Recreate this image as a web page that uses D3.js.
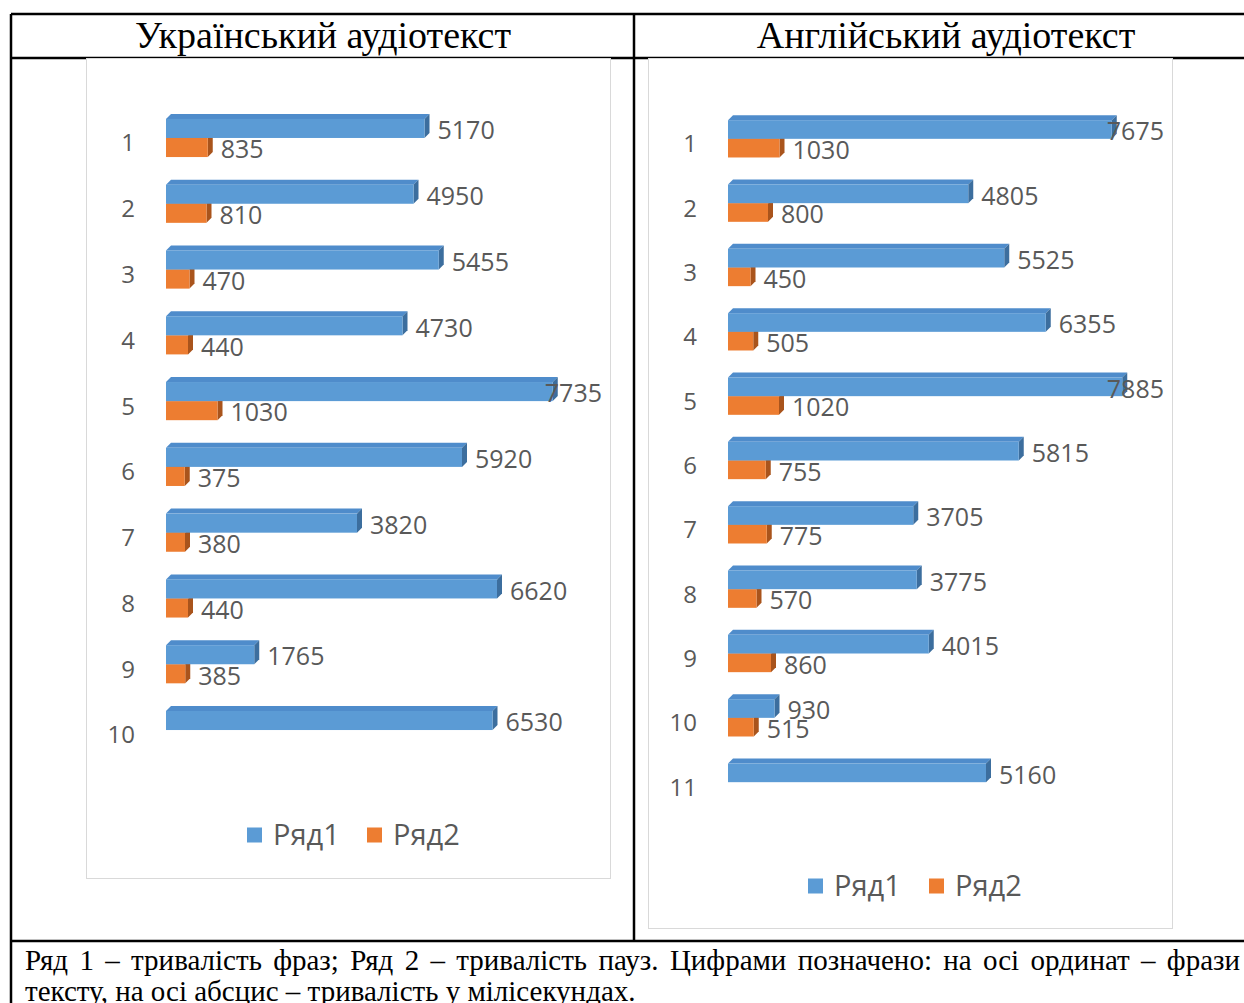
<!DOCTYPE html>
<html>
<head>
<meta charset="utf-8">
<script src="https://cdn.jsdelivr.net/npm/d3@7"></script>
<style>
  body { margin: 0; background: #fff; }
  svg { display: block; }
</style>
</head>
<body>
<div id="chart"></div>
<script>
const ukrCats = ["1", "2", "3", "4", "5", "6", "7", "8", "9", "10"];
const ukrRow1 = [5170, 4950, 5455, 4730, 7735, 5920, 3820, 6620, 1765, 6530];
const ukrRow2 = [835, 810, 470, 440, 1030, 375, 380, 440, 385, null];

const engCats = ["1", "2", "3", "4", "5", "6", "7", "8", "9", "10", "11"];
const engRow1 = [7675, 4805, 5525, 6355, 7885, 5815, 3705, 3775, 4015, 930, 5160];
const engRow2 = [1030, 800, 450, 505, 1020, 755, 775, 570, 860, 515, null];

const seriesNames = ["Ряд1", "Ряд2"];
const headers = ["Український аудіотекст", "Англійський аудіотекст"];
const footLine1 = "Ряд 1 – тривалість фраз; Ряд 2 – тривалість пауз. Цифрами позначено: на осі ординат – фрази";
const footLine2 = "тексту, на осі абсцис – тривалість у мілісекундах.";

const W = 1244, H = 1003;
const SERIF = "'Liberation Serif', 'DejaVu Serif', serif";
const SANS = "'Open Sans', 'Noto Sans', sans-serif";
const GREY = "#595959";
const FILL = [
  { front: "#5b9bd5", top: "#4f8ccb", side: "#3c6e9e" },
  { front: "#ed7d31", top: "#d96d25", side: "#a9541c" }
];
const DEPTH = 5;

const svg = d3.select("#chart").append("svg")
  .attr("width", W).attr("height", H);

// table frame
const frame = svg.append("g").attr("stroke", "#000").attr("stroke-width", 2.5).attr("fill", "none");
frame.append("line").attr("x1", 11).attr("x2", W + 20).attr("y1", 14).attr("y2", 14);
frame.append("line").attr("x1", 11).attr("x2", W + 20).attr("y1", 58).attr("y2", 58);
frame.append("line").attr("x1", 11).attr("x2", W + 20).attr("y1", 941).attr("y2", 941);
frame.append("line").attr("x1", 11).attr("x2", 11).attr("y1", 14).attr("y2", H + 10);
frame.append("line").attr("x1", 634).attr("x2", 634).attr("y1", 14).attr("y2", 941);

svg.append("text").attr("x", 323).attr("y", 48).attr("text-anchor", "middle")
  .attr("font-family", SERIF).attr("font-size", 38).text(headers[0]);
svg.append("text").attr("x", 946).attr("y", 48).attr("text-anchor", "middle")
  .attr("font-family", SERIF).attr("font-size", 38).text(headers[1]);

// justified first footer line
function justifiedLine(text, x0, x1, y) {
  const words = text.split(" ");
  const g = svg.append("g").attr("font-family", SERIF).attr("font-size", 29);
  const nodes = words.map(w => g.append("text").attr("y", y).text(w));
  const widths = nodes.map(n => n.node().getComputedTextLength());
  const gap = (x1 - x0 - d3.sum(widths)) / (words.length - 1);
  let x = x0;
  nodes.forEach((n, i) => { n.attr("x", x); x += widths[i] + gap; });
}
justifiedLine(footLine1, 25, 1240, 970);
svg.append("text").attr("x", 25).attr("y", 1001)
  .attr("font-family", SERIF).attr("font-size", 29).text(footLine2);

function drawChart(cfg) {
  const g = svg.append("g");
  g.append("rect").attr("x", cfg.box[0] + 0.5).attr("y", cfg.box[1] + 0.5)
    .attr("width", cfg.box[2]).attr("height", cfg.box[3])
    .attr("fill", "#fff").attr("stroke", "#d9d9d9");

  const x = d3.scaleLinear().domain([0, 8000]).range([cfg.x0, cfg.x0 + 400]);
  const y = d3.scaleBand().domain(cfg.cats).range(cfg.yRange)
    .paddingInner(0.42).paddingOuter(0.5);
  const inner = d3.scaleBand().domain([0, 1]).range([0, y.bandwidth()]);

  cfg.cats.forEach((c, i) => {
    const vals = [cfg.row1[i], cfg.row2[i]];
    // orange first, blue on top of it
    [1, 0].forEach(s => {
      const v = vals[s];
      if (v == null) return;
      const yt = y(c) + inner(s);
      const h = inner.bandwidth();
      const xa = x(0), xb = x(v);
      const col = FILL[s];
      g.append("polygon")
        .attr("points", [[xa, yt], [xa + DEPTH, yt - DEPTH], [xb + DEPTH, yt - DEPTH], [xb, yt]].join(" "))
        .attr("fill", col.top);
      g.append("polygon")
        .attr("points", [[xb, yt], [xb + DEPTH, yt - DEPTH], [xb + DEPTH, yt + h - DEPTH], [xb, yt + h]].join(" "))
        .attr("fill", col.side);
      g.append("rect").attr("x", xa).attr("y", yt).attr("width", xb - xa).attr("height", h)
        .attr("fill", col.front);
    });
    vals.forEach((v, s) => {
      if (v == null) return;
      const t = g.append("text")
        .attr("y", y(c) + inner(s) + inner.bandwidth() / 2 + 2)
        .attr("dy", "0.35em")
        .attr("font-family", SANS).attr("font-size", 25).attr("fill", GREY)
        .text(v);
      const tw = t.node().getComputedTextLength();
      t.attr("x", Math.min(x(v) + 13, cfg.labelMax - tw));
    });
  });

  // category axis labels
  g.selectAll(".cat").data(cfg.cats).enter().append("text")
    .attr("x", cfg.x0 - 31)
    .attr("y", d => y(d) + y.bandwidth() / 2 + 5)
    .attr("dy", "0.35em").attr("text-anchor", "end")
    .attr("font-family", SANS).attr("font-size", 24).attr("fill", GREY)
    .text(d => d);

  // legend
  const lg = g.append("g").attr("transform", `translate(${cfg.legend[0]},${cfg.legend[1]})`);
  seriesNames.forEach((name, i) => {
    const ox = i * cfg.legendStep;
    lg.append("rect").attr("x", ox).attr("y", -7.5).attr("width", 15).attr("height", 15)
      .attr("fill", FILL[i].front);
    lg.append("text").attr("x", ox + 26).attr("dy", "0.35em")
      .attr("font-family", SANS).attr("font-size", 29).attr("fill", GREY).text(name);
  });
}

drawChart({
  cats: ukrCats, row1: ukrRow1, row2: ukrRow2,
  box: [86, 58, 524, 820], x0: 166, yRange: [86, 782], labelMax: 602,
  legend: [247, 835], legendStep: 120
});

drawChart({
  cats: engCats, row1: engRow1, row2: engRow2,
  box: [648, 58, 524, 870], x0: 728, yRange: [88, 833], labelMax: 1164,
  legend: [808, 886], legendStep: 121
});
</script>
</body>
</html>
